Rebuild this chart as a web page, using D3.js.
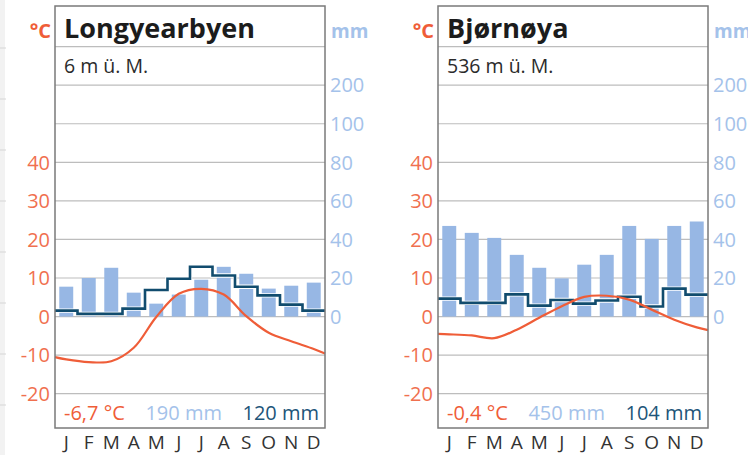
<!DOCTYPE html>
<html>
<head>
<meta charset="utf-8">
<script src="https://cdn.jsdelivr.net/npm/d3@7"></script>
<style>
  body { margin: 0; background: #fff; }
  svg { display: block; font-family: "Open Sans", sans-serif; }
</style>
</head>
<body>
<div id="chart"></div>
<script>
// month initials along the bottom
const months = ["J", "F", "M", "A", "M", "J", "J", "A", "S", "O", "N", "D"];
const tempTicks = [-20, -10, 0, 10, 20, 30, 40];
const mmTicks = [0, 20, 40, 60, 80, 100, 200];

const stationNames = ["Longyearbyen", "Bjørnøya"];
const stationHeights = ["6 m ü. M.", "536 m ü. M."];

// precipitation bars (mm)
const precipLongyearbyen = [15.5, 20, 25.3, 12.4, 6.7, 11.4, 19.1, 25.8, 22.2, 14.5, 16, 17.6];
const precipBjornoya = [47, 43.4, 40.8, 32, 25.3, 19.8, 26.9, 32, 47, 40.3, 47, 49.3];

// dark step line (mm)
const stepLongyearbyen = [3.1, 1.4, 1.4, 4.1, 13.8, 19.6, 25.8, 21.3, 15.5, 11, 6.2, 3.1];
const stepBjornoya = [9.3, 7.1, 7.1, 11.5, 5.7, 8.6, 6.7, 8.3, 10.3, 5.2, 14.5, 11.4];

// temperature curve (°C) at month centres, plus the values where it meets the frame edges
const tempLongyearbyen = [-11.1, -11.8, -11.6, -8.1, -0.1, 5.9, 7.2, 5.7, 0.1, -4.2, -6.4, -8.4];
const tempEdgesLongyearbyen = [-10.5, -9.6];
const tempBjornoya = [-4.6, -4.9, -5.6, -3.4, -0.3, 2.7, 5.1, 5.4, 4.4, 1.8, -0.8, -2.8];
const tempEdgesBjornoya = [-4.5, -3.5];

// yearly summaries shown at the bottom
const summaryLongyearbyen = ["-6,7 °C", "190 mm", "120 mm"];
const summaryBjornoya = ["-0,4 °C", "450 mm", "104 mm"];

const W = 748, H = 455;
const panelW = 270, frameTop = 6, frameBottom = 428;

const cTemp = "#ef5d38", cPrecip = "#97b7e4", cPrecipText = "#a4c2ea", cStep = "#114c6e";

const svg = d3.select("#chart").append("svg")
    .attr("width", W)
    .attr("height", H);

// faint page strip at the far left
svg.append("rect").attr("x", 0).attr("y", 0).attr("width", 5).attr("height", H).attr("fill", "#f2f2f2");
svg.selectAll(".strip-line")
    .data([48, 99, 150, 201, 252, 303, 354, 405])
    .enter().append("line")
    .attr("x1", 0).attr("x2", 6)
    .attr("y1", d => d).attr("y2", d => d)
    .attr("stroke", "#d6d6d6");

const yT = d3.scaleLinear().domain([-20, 40]).range([393.7, 162.3]);
// precipitation: 20 mm per 10 °C up to 100 mm, then 100 mm per step
const yP = d3.scaleLinear().domain([0, 80, 100, 200]).range([yT(0), yT(40), yT(50), yT(60)]);

drawPanel(55, {
    name: stationNames[0], height: stationHeights[0],
    precip: precipLongyearbyen, step: stepLongyearbyen,
    temp: tempLongyearbyen, edges: tempEdgesLongyearbyen,
    summary: summaryLongyearbyen
});
drawPanel(438, {
    name: stationNames[1], height: stationHeights[1],
    precip: precipBjornoya, step: stepBjornoya,
    temp: tempBjornoya, edges: tempEdgesBjornoya,
    summary: summaryBjornoya
});

function drawPanel(x0, st) {
    const x1 = x0 + panelW;
    const g = svg.append("g");
    const x = d3.scaleBand().domain(d3.range(12)).range([x0, x1]);
    const bw = x.bandwidth();

    // grid lines
    const gridYs = tempTicks.map(yT).concat([yT(50), yT(60), yT(70)]);
    g.selectAll(".grid")
        .data(gridYs)
        .enter().append("line")
        .attr("x1", x0).attr("x2", x1)
        .attr("y1", d => d).attr("y2", d => d)
        .attr("stroke", "#bdbdbd")
        .attr("stroke-width", 1.2);

    // precipitation bars
    g.selectAll(".bar")
        .data(st.precip)
        .enter().append("rect")
        .attr("x", (d, i) => x(i) + bw * 0.19)
        .attr("width", bw * 0.62)
        .attr("y", d => yP(d))
        .attr("height", d => yP(0) - yP(d))
        .attr("fill", cPrecip);

    // step line
    const stepPts = st.step.map((v, i) => [x(i), yP(v)]);
    stepPts.push([x1, yP(st.step[11])]);
    const stepLine = d3.line().curve(d3.curveStepAfter);
    g.append("path").attr("d", stepLine(stepPts))
        .attr("fill", "none").attr("stroke", "#fff").attr("stroke-width", 4.4);
    g.append("path").attr("d", stepLine(stepPts))
        .attr("fill", "none").attr("stroke", cStep).attr("stroke-width", 2.6);

    // temperature curve
    const tPts = [[x0, yT(st.edges[0])]]
        .concat(st.temp.map((v, i) => [x(i) + bw / 2, yT(v)]))
        .concat([[x1, yT(st.edges[1])]]);
    g.append("path")
        .attr("d", d3.line().curve(d3.curveCatmullRom.alpha(0.5))(tPts))
        .attr("fill", "none")
        .attr("stroke", cTemp)
        .attr("stroke-width", 2.2);

    // frame
    g.append("rect")
        .attr("x", x0).attr("y", frameTop)
        .attr("width", panelW).attr("height", frameBottom - frameTop)
        .attr("fill", "none")
        .attr("stroke", "#7a7a7a")
        .attr("stroke-width", 1.5);

    // titles
    g.append("text").attr("x", x0 + 9).attr("y", 38)
        .attr("font-size", 27).attr("font-weight", "bold").attr("fill", "#1c1c1c")
        .text(st.name);
    g.append("text").attr("x", x0 + 9).attr("y", 73)
        .attr("font-size", 19.5).attr("fill", "#2b2b2b")
        .text(st.height);

    // axis units
    g.append("text").attr("x", x0 - 4).attr("y", 38)
        .attr("text-anchor", "end").attr("font-size", 20).attr("font-weight", "bold")
        .attr("fill", cTemp).text("°C");
    g.append("text").attr("x", x1 + 6).attr("y", 38)
        .attr("font-size", 19).attr("font-weight", "bold")
        .attr("fill", cPrecipText).text("mm");

    // temperature tick labels
    g.selectAll(".tl")
        .data(tempTicks)
        .enter().append("text")
        .attr("x", x0 - 5)
        .attr("y", d => yT(d))
        .attr("dy", "0.36em")
        .attr("text-anchor", "end")
        .attr("font-size", 20)
        .attr("fill", "#f0704f")
        .text(d => d);

    // precipitation tick labels
    g.selectAll(".pl")
        .data(mmTicks)
        .enter().append("text")
        .attr("x", x1 + 5)
        .attr("y", d => yP(d))
        .attr("dy", "0.36em")
        .attr("font-size", 20)
        .attr("fill", cPrecipText)
        .text(d => d);

    // month labels
    g.selectAll(".ml")
        .data(months)
        .enter().append("text")
        .attr("x", (d, i) => x(i) + bw / 2)
        .attr("y", 449)
        .attr("text-anchor", "middle")
        .attr("font-size", 19)
        .attr("fill", "#333")
        .text(d => d);

    // summary row
    const s0 = g.append("text").attr("x", x0 + 9).attr("y", 420)
        .attr("font-size", 20).attr("fill", cTemp).text(st.summary[0]);
    const s2 = g.append("text").attr("x", x1 - 6).attr("y", 420)
        .attr("text-anchor", "end")
        .attr("font-size", 20).attr("fill", "#1d5579").text(st.summary[2]);
    const leftEnd = x0 + 9 + s0.node().getComputedTextLength();
    const rightStart = x1 - 6 - s2.node().getComputedTextLength();
    g.append("text").attr("x", (leftEnd + rightStart) / 2).attr("y", 420)
        .attr("text-anchor", "middle")
        .attr("font-size", 20).attr("fill", cPrecipText).text(st.summary[1]);
}
</script>
</body>
</html>
